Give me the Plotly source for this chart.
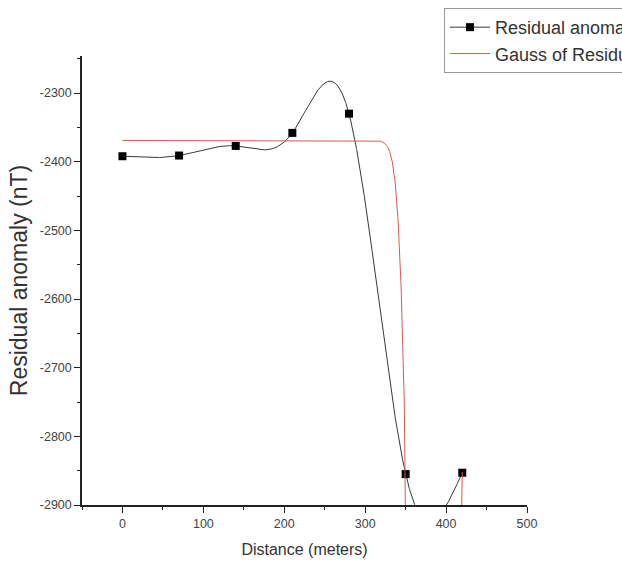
import numpy as np
import plotly.graph_objects as go

# Measured residual anomaly along the profile
distance_m = [0, 70, 140, 210, 280, 350, 420]
residual_nT = [-2392, -2391, -2377, -2358, -2330, -2855, -2853]

# Gauss fit parameters (Origin form: y0 + A*exp(-2*((x-xc)/w)^2))
gauss_y0 = -2369.0
gauss_xc = 385.0
gauss_w = 32.3
gauss_A = -5055.0

# Axis tick labels
x_ticks = [0, 100, 200, 300, 400, 500]
y_ticks = [-2900, -2800, -2700, -2600, -2500, -2400, -2300]


def natural_cubic_spline(xs, ys, xq):
    """Smooth connector through the measured points (natural cubic spline)."""
    xs = np.asarray(xs, float)
    ys = np.asarray(ys, float)
    n = len(xs)
    h = np.diff(xs)
    a = np.zeros((n, n))
    b = np.zeros(n)
    a[0, 0] = a[-1, -1] = 1.0
    for i in range(1, n - 1):
        a[i, i - 1] = h[i - 1]
        a[i, i] = 2 * (h[i - 1] + h[i])
        a[i, i + 1] = h[i]
        b[i] = 6 * ((ys[i + 1] - ys[i]) / h[i] - (ys[i] - ys[i - 1]) / h[i - 1])
    m = np.linalg.solve(a, b)
    idx = np.clip(np.searchsorted(xs, xq) - 1, 0, n - 2)
    x0, x1 = xs[idx], xs[idx + 1]
    y0, y1 = ys[idx], ys[idx + 1]
    m0, m1 = m[idx], m[idx + 1]
    hh = x1 - x0
    t0 = x1 - xq
    t1 = xq - x0
    return (m0 * t0 ** 3 / (6 * hh) + m1 * t1 ** 3 / (6 * hh)
            + (y0 / hh - m0 * hh / 6) * t0 + (y1 / hh - m1 * hh / 6) * t1)


x_line = np.linspace(min(distance_m), max(distance_m), 1681)
y_line = natural_cubic_spline(distance_m, residual_nT, x_line)
y_fit = gauss_y0 + gauss_A * np.exp(-2.0 * ((x_line - gauss_xc) / gauss_w) ** 2)

FONT = "Liberation Sans, Arial, sans-serif"

fig = go.Figure()

# spline connector drawn first, markers on top, one legend entry
fig.add_trace(go.Scatter(
    x=x_line, y=y_line, mode="lines",
    line=dict(color="#3a3a3a", width=1),
    showlegend=False, hoverinfo="skip",
))
fig.add_trace(go.Scatter(
    x=distance_m, y=residual_nT,
    mode="markers",
    name="Residual anomaly (nT)",
    marker=dict(symbol="square", size=8, color="black"),
    showlegend=False,
))
# legend sample: line with square marker
fig.add_trace(go.Scatter(
    x=[None], y=[None], mode="lines+markers",
    name="Residual anomaly (nT)",
    line=dict(color="#3a3a3a", width=1),
    marker=dict(symbol="square", size=8, color="black"),
))
fig.add_trace(go.Scatter(
    x=x_line, y=y_fit,
    mode="lines",
    name="Gauss of Residual anomaly",
    line=dict(color="rgb(214,90,90)", width=1),
))

axis_common = dict(
    showline=True, linecolor="#222", linewidth=1.5,
    ticks="outside", ticklen=6, tickwidth=1, tickcolor="#222",
    showgrid=False, zeroline=False, mirror=False,
    tickfont=dict(family=FONT, size=12.5, color="#444"),
)

fig.update_xaxes(
    range=[-50, 500],
    tickmode="array", tickvals=x_ticks, ticktext=[str(v) for v in x_ticks],
    minor=dict(ticks="outside", ticklen=3, dtick=50, tick0=0, tickcolor="#222"),
    title=dict(text="Distance (meters)",
               font=dict(family=FONT, size=16, color="#333"),
               standoff=14),
    **axis_common,
)
fig.update_yaxes(
    range=[-2900, -2246],
    tickmode="array", tickvals=y_ticks, ticktext=[str(v) for v in y_ticks],
    minor=dict(ticks="outside", ticklen=3, dtick=50, tick0=-2900, tickcolor="#222"),
    title=dict(text="Residual anomaly (nT)",
               font=dict(family=FONT, size=23, color="#333"),
               standoff=6),
    **axis_common,
)

fig.update_layout(
    width=622, height=577,
    margin=dict(l=82, r=95, t=56, b=72, autoexpand=False),
    plot_bgcolor="white", paper_bgcolor="white",
    showlegend=True,
    legend=dict(
        x=0.8135, y=1.107, xanchor="left", yanchor="top",
        bgcolor="white", bordercolor="#999", borderwidth=1,
        font=dict(family=FONT, size=18, color="#333"),
        itemwidth=40, tracegroupgap=0,
    ),
)

fig.write_html("out.html")
